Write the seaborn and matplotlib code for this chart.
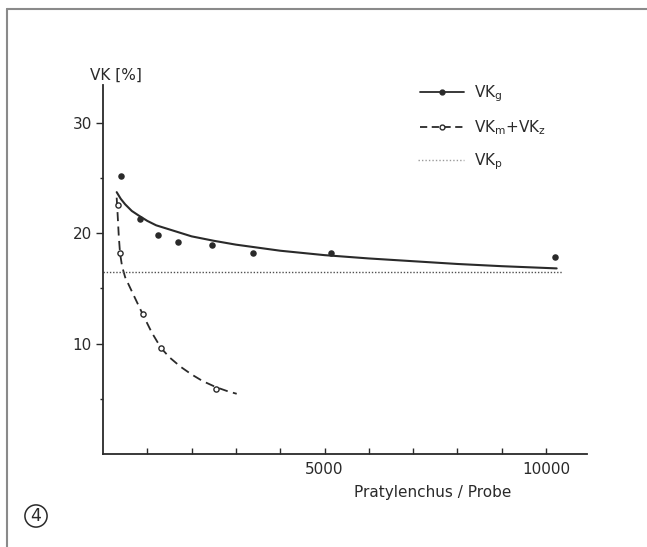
import numpy as np
import pandas as pd
import matplotlib
matplotlib.use("Agg")
import matplotlib.pyplot as plt
from matplotlib.lines import Line2D
from matplotlib.legend_handler import HandlerLine2D
import seaborn as sns

# VK_g measured points (filled)
g_x = [400, 835, 1250, 1690, 2460, 3390, 5140, 10210]
g_y = [25.2, 21.3, 19.8, 19.2, 18.9, 18.2, 18.15, 17.8]
# VK_g fitted curve
gc_x = [309, 400, 500, 650, 800, 1000, 1200, 1600, 2000, 2500, 3000, 4000, 5000, 6000,
        7000, 8000, 9000, 10240]
gc_y = [23.7, 23.1, 22.6, 22.0, 21.6, 21.1, 20.7, 20.2, 19.7, 19.3, 18.95, 18.4, 18.0,
        17.7, 17.45, 17.2, 17.0, 16.8]

# VK_m + VK_z measured points (open)
m_x = [332, 384, 896, 1309, 2551]
m_y = [22.5, 18.2, 12.65, 9.57, 5.86]
# VK_m + VK_z curve
mc_x = [309, 330, 355, 384, 430, 500, 677, 896, 1100, 1309, 1500, 1750, 2000, 2250,
        2551, 2800, 3018]
mc_y = [23.2, 21.7, 19.8, 18.2, 17.0, 16.0, 14.5, 12.65, 11.0, 9.6, 8.75, 7.9, 7.2,
        6.6, 6.05, 5.7, 5.45]

# VK_p level
p_x = [0, 10380]
p_y = [16.5, 16.5]

x_ticks = [5000, 10000]
y_ticks = [10, 20, 30]

sns.set_theme(style="ticks")
plt.rcParams['font.family'] = ['DejaVu Sans']

ink = "#2a2a2a"
fig = plt.figure(figsize=(6.47, 5.47), dpi=100)
ax = fig.add_axes([103 / 647, 93 / 547, 484 / 647, 369 / 547])

sns.lineplot(x=gc_x, y=gc_y, ax=ax, color=ink, lw=1.5, sort=False)
sns.lineplot(x=mc_x, y=mc_y, ax=ax, color=ink, lw=1.3, sort=False, linestyle=(0, (5, 3)))
ax.plot(p_x, p_y, color="#505050", lw=1.0, linestyle=(0, (1, 1.3)))
sns.scatterplot(x=g_x, y=g_y, ax=ax, color=ink, s=22, edgecolor=ink, linewidth=0, zorder=5)
sns.scatterplot(x=m_x, y=m_y, ax=ax, facecolor="white", s=14, edgecolor=ink, linewidth=1.0, zorder=5)

ax.set_xlim(0, 10925)
ax.set_ylim(0, 33.4)
ax.set_xticks(x_ticks)
ax.set_xticks(range(1000, 11000, 1000), minor=True)
ax.set_yticks(y_ticks)
ax.set_yticks([5, 15, 25], minor=True)
sns.despine(ax=ax)
for s in ["left", "bottom"]:
    ax.spines[s].set_color(ink)
    ax.spines[s].set_linewidth(1.3)

ax.tick_params(axis="x", which="both", direction="in", length=4, width=1, colors=ink,
               labelsize=11, pad=6)
ax.tick_params(axis="y", which="major", direction="out", length=5, width=1, colors=ink,
               labelsize=11, pad=3)
ax.tick_params(axis="y", which="minor", direction="out", length=2.5, width=1, colors=ink)

ax.set_xlabel("Pratylenchus / Probe", fontsize=11, color=ink)
ax.xaxis.set_label_coords(0.682, -0.085)
ax.set_ylabel("VK [%]", rotation=0, fontsize=11, color=ink, ha="center", va="center")
ax.yaxis.set_label_coords(0.027, 1.027)


class DotFirst(HandlerLine2D):
    def __init__(self, start=0.15, **kw):
        self.start = start
        super().__init__(**kw)

    def get_xdata(self, legend, xdescent, ydescent, width, height, fontsize):
        xdata = np.array([-xdescent + self.start * width, -xdescent + width])
        return xdata, np.array([-xdescent])


h_g = Line2D([], [], color=ink, lw=1.3, marker="o", ms=3.5, mfc=ink, mec=ink)
h_m = Line2D([], [], color=ink, lw=1.3, linestyle=(0, (4, 2.5)), marker="o", ms=3.5,
             mfc="white", mec=ink, mew=1)
h_p = Line2D([], [], color="#9a9a9a", lw=1.0, linestyle=(0, (1, 1.5)))
leg = ax.legend([h_g, h_m, h_p],
                [r"VK$_\mathregular{g}$", r"VK$_\mathregular{m}$+VK$_\mathregular{z}$",
                 r"VK$_\mathregular{p}$"],
                handler_map={h_g: DotFirst(0.15), h_m: DotFirst(0.15), h_p: DotFirst(0.12)},
                loc="upper left", bbox_to_anchor=(412 / 647, 1 - 83 / 547),
                bbox_transform=fig.transFigure, frameon=False, fontsize=11,
                handlelength=3.4, handletextpad=0.65, labelspacing=0.95,
                borderpad=0, borderaxespad=0)
for t in leg.get_texts():
    t.set_color(ink)

# circled figure number
fig.text(36 / 647, 1 - 516 / 547, "4", fontsize=12.5, color=ink, ha="center", va="center",
         bbox=dict(boxstyle="circle,pad=0.12", fc="none", ec=ink, lw=1.1))

# page frame (top and left)
fig.add_artist(Line2D([7 / 647, 1], [1 - 9 / 547, 1 - 9 / 547], color="#8a8a8a", lw=1.5,
                      transform=fig.transFigure))
fig.add_artist(Line2D([7 / 647, 7 / 647], [0, 1 - 9 / 547], color="#8a8a8a", lw=1.5,
                      transform=fig.transFigure))

fig.savefig("out.png", dpi=100)
